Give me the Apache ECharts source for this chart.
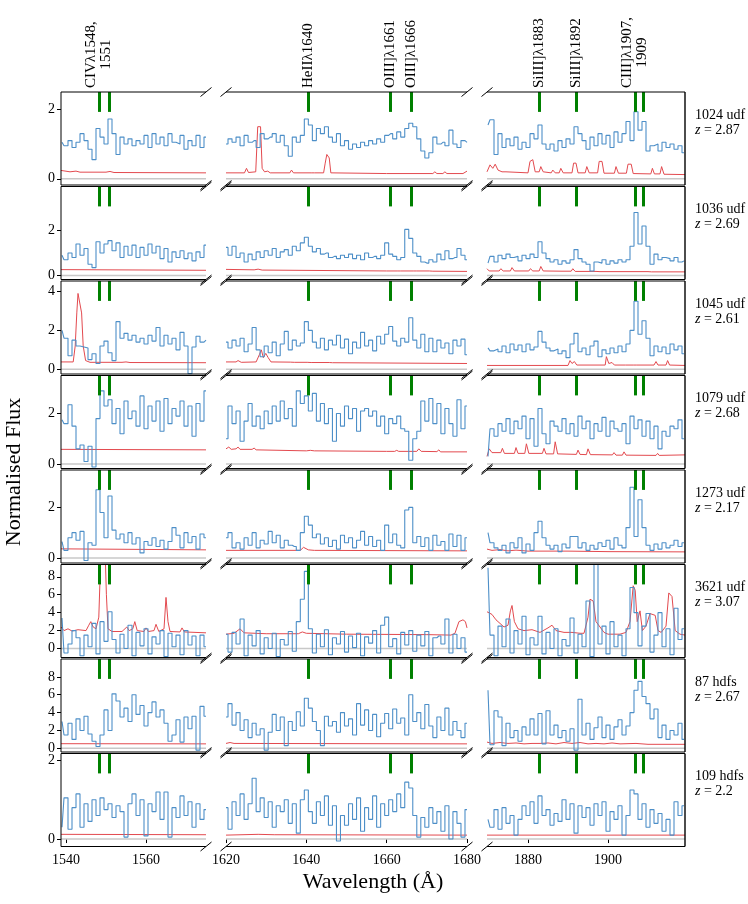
<!DOCTYPE html>
<html>
<head>
<meta charset="utf-8">
<script src="https://cdn.jsdelivr.net/npm/echarts@6.0.0/dist/echarts.min.js"></script>
<style>
html, body { margin: 0; padding: 0; background: #fff; }
#chart { width: 748px; height: 904px; }
</style>
</head>
<body>
<div id="chart"></div>
<script>
// wavelength grid of each segment (first sample, 1 A steps)
var segStart = [1539, 1620, 1870];
var segRange = [[1538.75, 1575], [1620, 1680], [1869.75, 1919.25]];
var xTicks = [[1540, 1560], [1620, 1640, 1660, 1680], [1880, 1900]];

var names = ['1024 udf', '1036 udf', '1045 udf', '1079 udf', '1273 udf', '3621 udf', '87 hdfs', '109 hdfs'];
var redshifts = ['2.87', '2.69', '2.61', '2.68', '2.17', '3.07', '2.67', '2.2'];
var yRanges = [[-0.18, 2.5], [-0.18, 3.96], [-0.24, 4.54], [-0.18, 3.51], [-0.2, 3.48], [-1.0, 9.37], [-0.41, 10.0], [-0.19, 2.18]];
var yTicks = [[0, 2], [0, 2], [0, 2, 4], [0, 2], [0, 2], [0, 2, 4, 6, 8], [0, 2, 4, 6, 8], [0, 2]];

var lineWaves = [1548.2, 1550.8, 1640.4, 1660.8, 1666.15, 1882.7, 1892.0, 1906.7, 1908.7];
var lineLabels = [
    {w: 1548.2, text: ['CIVλ1548,', '1551']},
    {w: 1640.4, text: ['HeIIλ1640']},
    {w: 1660.8, text: ['OIII]λ1661']},
    {w: 1666.15, text: ['OIII]λ1666']},
    {w: 1882.7, text: ['SiIII]λ1883']},
    {w: 1892.0, text: ['SiIII]λ1892']},
    {w: 1906.7, text: ['CIII]λ1907,', '1909']}
];

// ---- flux, 1024 udf
var f1a = [1.05,0.95,1.1,0.9,1.05,1.3,1.1,0.85,0.55,1.45, 1.2,1.0,1.72,1.3,0.7,1.2,1.0,1.15,0.95,1.1, 1.0,1.25,0.9,1.3,1.0,1.2,0.95,1.3,1.05,1.0, 1.25,0.85,1.1,0.95,1.25,0.9,1.2];
var f1b = [1.0,1.15,1.05,1.2,0.95,1.25,1.05,1.1,0.9,1.3, 1.15,1.2,1.3,1.05,1.25,0.95,0.65,1.2,1.05,1.25, 1.72,1.55,1.1,1.45,1.3,1.5,1.2,1.05,1.3,0.95, 1.1,0.85,1.0,0.9,1.05,0.95,1.1,1.0,1.15,1.05, 1.25,1.3,1.15,1.35,1.2,1.45,1.6,1.5,1.15,0.8, 0.6,0.75,1.2,1.0,1.05,0.95,1.4,1.0,0.9,1.1,1.05];
var f1c = [1.55,1.7,0.7,1.3,0.9,1.15,0.95,1.2,0.85,1.05, 0.9,1.3,1.15,1.55,1.0,0.85,1.0,0.8,1.1,0.9, 1.15,1.0,1.5,1.3,1.1,0.85,1.2,0.95,1.3,1.0, 1.25,0.9,1.35,1.05,1.3,1.65,1.1,1.93,1.4,1.65, 0.8,0.95,1.0,0.8,1.05,0.9,1.0,0.85,0.95,0.75];
// ---- flux, 1036 udf
var f2a = [0.9,0.7,1.0,0.8,1.4,0.9,1.2,0.5,0.35,1.5, 1.0,1.4,1.55,1.1,1.45,0.8,1.3,0.9,1.35,0.8, 1.25,0.9,1.4,1.0,1.3,0.75,1.2,0.6,1.05,0.8, 1.1,0.75,1.0,0.65,1.05,0.8,1.35];
var f2b = [1.25,0.9,1.3,0.8,1.0,0.6,0.95,0.7,1.05,0.8, 1.1,0.9,1.2,0.8,1.05,1.15,0.9,1.3,1.1,1.45, 1.7,1.3,1.05,1.2,0.95,1.0,0.8,0.85,0.75,0.9, 0.8,0.95,0.75,0.9,0.7,1.0,0.8,0.85,0.75,0.9, 1.45,0.95,0.85,0.7,0.8,2.05,1.65,1.0,0.85,0.6, 0.55,0.7,0.6,0.95,0.7,1.1,0.75,0.8,1.2,0.9,0.7];
var f2c = [0.55,0.85,0.6,0.9,0.75,0.95,0.8,0.85,0.65,0.9, 0.75,0.95,0.8,1.5,1.0,0.75,0.6,0.7,0.5,0.65, 0.55,0.7,1.15,0.75,0.6,0.5,0.2,0.6,0.55,0.7, 0.5,0.65,0.55,0.7,0.6,0.7,1.3,2.8,1.4,2.2, 1.3,0.5,0.95,0.7,0.8,0.75,0.65,0.8,0.6,0.65];
// ---- flux, 1045 udf
var f3a = [2.0,1.6,0.7,1.5,1.2,1.15,1.1,0.5,0.8,0.3, 1.2,1.45,0.85,0.45,2.45,1.6,1.85,1.5,1.75,1.4, 1.6,1.3,1.75,1.45,2.15,1.2,1.75,1.3,1.6,1.0, 1.9,1.2,-0.22,1.15,1.7,1.4,1.5];
var f3b = [1.4,1.1,1.5,1.2,1.6,0.9,1.3,2.15,1.0,0.65, 1.2,0.85,1.4,0.7,1.3,1.95,1.0,1.5,1.2,1.35, 2.45,2.0,1.4,1.1,1.6,1.0,1.5,1.25,1.75,1.1, 1.55,0.8,1.4,1.1,1.9,1.2,1.5,0.95,1.7,1.3, 1.8,2.2,1.45,1.2,1.6,1.4,2.65,1.5,1.1,1.8, 0.9,1.6,0.9,1.5,1.1,1.35,0.8,1.5,1.2,1.55,0.75];
var f3c = [1.1,0.95,1.05,0.9,1.2,0.85,1.3,1.0,1.25,0.9, 1.3,1.0,1.15,1.95,1.4,1.1,0.95,1.05,0.8,0.95, 0.6,1.3,1.85,0.9,1.1,0.75,1.2,1.45,0.65,1.0, 0.8,1.1,0.85,1.2,0.9,1.3,2.0,3.5,1.8,2.5, 1.6,0.7,1.2,0.9,1.15,0.8,1.3,1.0,1.2,0.8];
// ---- flux, 1079 udf
var f4a = [1.75,1.6,2.35,1.5,0.6,0.75,0.1,0.7,-0.12,1.8, 2.9,2.3,2.55,1.6,2.2,1.2,2.5,1.8,2.1,1.5, 2.7,1.4,2.3,1.7,2.5,1.3,2.6,1.6,2.2,1.9, 2.5,1.5,2.3,1.1,2.4,1.7,2.9];
var f4b = [1.0,2.3,1.6,2.1,0.9,1.7,2.4,1.5,1.9,1.4, 2.1,1.6,2.3,1.7,2.5,1.8,2.2,1.5,2.9,2.4, 2.7,2.1,2.8,1.7,2.4,1.6,2.2,0.9,2.0,1.5, 2.3,1.8,2.2,1.3,2.1,2.2,1.9,2.1,1.5,1.9, 1.2,1.8,1.6,1.9,1.4,1.3,0.15,1.0,1.3,2.5, 1.7,2.6,1.6,2.4,1.2,2.2,1.6,1.1,2.55,1.4,2.3];
var f4c = [0.3,1.4,1.1,1.6,1.3,1.8,1.2,1.7,1.4,1.9, 1.0,1.8,0.7,2.2,1.2,0.8,1.7,1.5,1.3,1.8, 1.2,1.6,1.1,1.9,1.4,1.7,1.0,1.6,1.3,1.85, 1.1,1.7,1.4,1.3,1.6,0.8,1.9,1.4,1.75,1.1, 1.7,1.0,1.5,0.6,1.3,1.1,1.5,1.4,1.75,1.0];
// ---- flux, 1273 udf
var f5a = [0.65,0.3,0.8,1.0,0.7,1.05,-0.1,0.6,0.5,2.7, 1.8,0.8,2.45,1.1,0.75,0.95,0.6,1.0,0.55,0.8, 0.2,0.65,0.5,0.8,0.45,0.7,0.35,0.65,1.2,0.9, 0.4,1.0,0.6,0.85,0.35,0.95,0.8];
var f5b = [0.8,1.0,0.4,0.6,0.35,0.8,0.5,1.0,0.4,0.7, 0.55,1.05,0.6,0.9,0.4,0.7,0.5,0.45,0.3,1.0, 1.65,1.3,0.8,0.95,0.55,0.8,0.45,0.7,0.35,0.9, 0.6,0.8,0.4,0.7,1.05,0.5,0.85,0.45,0.7,0.3, 1.3,0.6,0.95,0.5,0.4,1.9,2.0,0.6,0.85,0.45, 0.8,0.3,0.9,0.5,0.65,0.3,0.95,0.45,0.9,0.3,0.8];
var f5c = [1.0,0.6,0.4,0.3,0.5,0.2,0.6,0.4,0.8,0.2, 0.55,0.3,1.0,1.45,0.8,0.5,0.35,0.5,0.25,0.55, 0.4,0.85,0.85,0.4,0.6,0.3,0.5,0.35,0.6,0.45, 0.7,0.35,0.8,0.5,0.4,1.2,2.8,0.85,2.3,1.2, 0.5,0.3,0.55,0.35,0.6,0.4,0.5,0.7,0.45,0.6];
// ---- flux, 3621 udf
var f6a = [3.4,-0.5,0.5,2.0,1.2,-0.8,1.5,0.2,2.8,-0.6, 3.0,0.8,4.1,1.0,-0.5,1.6,0.0,2.6,-0.8,1.8, 0.3,2.2,-0.6,1.3,0.5,2.0,-0.9,1.7,0.2,1.5, -0.7,2.0,0.4,1.4,-0.8,1.5,0.2];
var f6b = [1.6,-0.4,1.8,0.5,3.3,-0.8,1.5,0.3,2.0,-0.6, 1.2,0.0,1.7,-0.9,1.0,0.4,1.9,-0.3,3.0,5.5, 8.6,2.2,-0.5,1.6,0.2,2.1,-0.7,1.2,0.5,1.9, -0.4,1.4,0.1,1.7,-0.8,1.3,0.6,2.0,-0.5,2.6, 3.5,0.2,1.1,-0.6,1.8,0.4,2.0,-0.3,1.5,0.3, 1.9,-0.8,1.2,1.4,0.5,3.3,-0.5,1.6,0.0,1.2,-0.4];
var f6c = [9.0,1.5,-0.8,2.5,0.2,3.3,-0.5,2.0,0.5,3.6, -0.7,1.2,0.4,3.6,-0.6,1.8,0.0,2.2,-0.8,1.0, 0.3,3.4,-0.5,1.6,0.2,5.3,-0.9,9.6,0.5,2.5, -0.6,3.0,0.2,1.5,-0.8,2.2,6.8,4.0,0.3,2.5, 3.9,-0.4,1.5,4.0,0.2,2.2,-0.7,4.5,1.0,2.2];
// ---- flux, 87 hdfs
var f7a = [3.0,1.5,2.8,1.0,3.3,2.0,3.6,1.6,0.8,0.2, 1.5,4.3,2.0,6.1,5.3,3.5,4.5,3.0,6.0,3.8, 4.8,2.5,4.0,5.2,3.5,4.3,2.8,0.8,1.5,3.2, 0.7,3.5,2.2,3.6,-0.2,4.7,3.6];
var f7b = [3.5,5.0,2.6,4.0,2.0,3.2,1.2,2.8,1.5,2.2, -0.2,1.8,3.8,2.0,3.5,0.3,3.0,2.0,4.1,2.5, 5.6,4.5,3.0,2.0,0.3,3.6,2.5,3.0,1.8,4.0, 2.5,3.3,1.5,5.0,2.6,4.3,2.0,3.8,1.3,2.8, 3.9,2.2,4.4,2.8,3.4,1.5,6.0,3.0,4.0,2.2, 4.9,2.5,1.2,3.5,2.0,4.5,1.5,3.0,2.0,1.2,2.8];
var f7c = [6.5,0.4,4.2,3.5,0.3,2.8,1.2,2.0,0.8,2.4, 1.5,3.3,1.5,3.9,0.5,4.2,1.5,2.6,1.2,2.0, 0.8,2.2,-0.2,5.5,1.5,2.8,1.0,2.3,3.5,1.2, 2.6,1.0,2.4,3.2,1.5,2.5,4.0,6.5,7.5,5.8, 5.0,3.3,4.4,1.2,2.6,1.0,2.0,1.5,2.8,1.0];
// ---- flux, 109 hdfs
var f8a = [0.3,1.05,0.25,0.8,1.15,0.3,0.9,0.45,1.0,0.6, 1.05,0.75,0.9,0.55,0.85,0.7,0.05,0.9,1.15,0.6, 1.0,0.08,0.9,0.7,1.2,0.5,1.2,0.05,0.8,0.55, 1.1,0.6,0.95,0.3,0.9,0.5,0.75];
var f8b = [0.8,0.25,0.95,0.6,1.15,0.5,0.9,1.55,0.7,1.05, 0.55,0.95,0.3,0.85,0.7,1.0,0.4,0.9,0.15,1.0, 1.25,0.7,0.4,0.95,0.6,1.1,0.35,0.85,-0.05,0.6, 0.35,0.9,0.5,1.05,0.2,0.8,0.5,1.1,0.3,0.9, 0.6,1.0,0.7,1.15,0.8,1.45,1.3,0.6,0.05,0.55, 0.3,0.8,0.4,0.7,0.2,0.85,0.0,0.7,0.4,0.05,0.75];
var f8c = [0.5,0.3,0.75,0.25,0.8,0.4,0.6,0.1,0.5,0.85, 0.6,0.95,0.4,1.1,0.6,0.75,0.35,0.65,0.45,1.0, 0.5,0.9,0.15,0.85,0.55,0.8,0.35,0.9,0.6,0.95, 0.2,0.7,0.5,0.85,0.1,0.6,1.25,1.15,0.5,0.9, 0.3,0.75,0.4,0.65,0.2,0.5,0.1,0.95,0.6,0.85];

// ---- error spectra [wavelength, value]
var e1a = [[1538.75,0.24],[1541,0.2],[1542.5,0.22],[1543.5,0.19],[1550,0.19],[1551,0.21],[1552,0.18],[1575,0.17]];
var e1b = [[1620,0.17],[1624.6,0.17],[1625.1,0.3],[1625.6,0.18],[1627.4,0.2],[1627.9,1.5],[1628.6,1.5],[1629,0.3],[1629.6,0.2],[1630.4,0.22],[1631,0.17],[1635.9,0.17],[1636.3,0.25],[1636.8,0.17],[1641.2,0.17],[1641.6,0.22],[1642,0.17],[1643.4,0.17],[1643.8,0.22],[1644.3,0.17],[1644.7,0.45],[1645.1,0.7],[1645.7,0.6],[1646.1,0.17],[1660,0.15],[1671.5,0.15],[1672,0.2],[1672.5,0.15],[1674,0.15],[1674.5,0.2],[1675,0.15],[1679,0.15],[1680,0.22]];
var e1c = [[1869.75,0.2],[1870.5,0.4],[1871.2,0.3],[1871.8,0.42],[1872.5,0.25],[1873.5,0.2],[1874.5,0.2],[1875,0.18],[1880,0.17],[1880.5,0.5],[1881.2,0.55],[1881.8,0.2],[1882.8,0.2],[1883.2,0.35],[1883.8,0.2],[1885.8,0.17],[1886.2,0.25],[1886.8,0.17],[1887.8,0.17],[1888.2,0.3],[1888.8,0.17],[1891,0.17],[1891.4,0.45],[1892,0.45],[1892.5,0.17],[1894.3,0.17],[1894.7,0.35],[1895.3,0.17],[1897.4,0.17],[1897.8,0.5],[1898.5,0.5],[1899,0.16],[1901.6,0.16],[1902,0.35],[1902.6,0.16],[1904.6,0.16],[1905,0.42],[1905.8,0.42],[1906.3,0.15],[1910.7,0.14],[1911.1,0.3],[1911.6,0.14],[1913,0.14],[1913.4,0.35],[1914,0.13],[1919.25,0.12]];
var e2a = [[1538.75,0.26],[1575,0.23]];
var e2b = [[1620,0.27],[1627,0.25],[1628,0.28],[1629,0.24],[1660,0.2],[1662.6,0.2],[1663,0.27],[1663.5,0.2],[1666.6,0.2],[1667,0.26],[1667.5,0.2],[1670.6,0.2],[1671,0.25],[1671.5,0.19],[1680,0.18]];
var e2c = [[1869.75,0.3],[1870.3,0.2],[1872.8,0.2],[1873.2,0.3],[1873.8,0.2],[1875.6,0.2],[1876,0.35],[1876.6,0.2],[1880.2,0.2],[1880.6,0.3],[1881.2,0.2],[1882.8,0.2],[1883.2,0.4],[1883.8,0.2],[1888.5,0.19],[1889,0.25],[1889.5,0.19],[1890.8,0.19],[1891.2,0.3],[1891.8,0.18],[1897,0.18],[1897.5,0.22],[1898,0.17],[1910,0.17],[1910.4,0.2],[1910.9,0.16],[1919.25,0.16]];
var e3a = [[1538.75,0.38],[1541.8,0.38],[1542.3,1.2],[1542.7,2.9],[1543.0,3.9],[1543.5,3.85],[1543.9,2.9],[1544.3,1.2],[1544.9,0.45],[1546,0.36],[1554,0.36],[1555,0.38],[1556,0.35],[1575,0.34]];
var e3b = [[1620,0.38],[1622.5,0.38],[1623,0.45],[1623.8,0.36],[1627.5,0.38],[1628.3,0.75],[1628.8,1.0],[1629.3,0.6],[1629.9,0.82],[1630.5,0.6],[1631.2,0.38],[1636,0.37],[1636.4,0.42],[1637,0.36],[1640.2,0.36],[1640.6,0.45],[1641.2,0.35],[1645.7,0.35],[1646,0.42],[1646.5,0.34],[1680,0.3]];
var e3c = [[1869.75,0.2],[1890,0.2],[1890.5,0.45],[1891,0.3],[1891.6,0.4],[1892.2,0.22],[1899.3,0.22],[1899.6,0.65],[1900.2,0.3],[1901,0.35],[1901.6,0.22],[1903.5,0.22],[1903.9,0.3],[1904.4,0.22],[1906.3,0.22],[1906.7,0.32],[1907.2,0.22],[1911.5,0.22],[1912,0.4],[1912.5,0.22],[1914.5,0.22],[1914.9,0.45],[1915.4,0.22],[1919.25,0.2]];
var e4a = [[1538.75,0.58],[1575,0.56]];
var e4b = [[1620,0.6],[1620.7,0.67],[1621.3,0.58],[1622.5,0.6],[1623,0.67],[1623.5,0.58],[1626.5,0.58],[1627,0.63],[1627.5,0.56],[1640,0.52],[1641,0.54],[1642,0.52],[1660,0.5],[1662,0.5],[1662.5,0.54],[1663,0.5],[1667.5,0.5],[1668,0.6],[1668.6,0.5],[1672.5,0.49],[1673,0.56],[1673.4,0.48],[1680,0.48]];
var e4c = [[1869.75,0.3],[1870.3,0.6],[1871,0.45],[1873.2,0.45],[1873.6,0.62],[1874.1,0.42],[1876.6,0.42],[1877,0.65],[1877.5,0.42],[1879.2,0.42],[1879.6,0.8],[1880.2,0.42],[1883.6,0.42],[1884,0.62],[1884.5,0.4],[1886.4,0.4],[1886.8,0.88],[1887.4,0.4],[1892.1,0.38],[1892.5,0.55],[1893,0.38],[1894.6,0.37],[1895,0.6],[1895.6,0.37],[1901.1,0.36],[1901.5,0.45],[1902,0.35],[1903.6,0.35],[1904,0.48],[1904.5,0.35],[1912,0.34],[1912.4,0.42],[1912.8,0.34],[1919.25,0.36]];
var e5a = [[1538.75,0.36],[1575,0.32]];
var e5b = [[1620,0.3],[1638.5,0.3],[1639.3,0.42],[1640.5,0.32],[1642,0.3],[1680,0.28]];
var e5c = [[1869.75,0.35],[1871,0.3],[1873,0.33],[1875,0.28],[1877,0.31],[1880,0.27],[1890,0.27],[1900,0.25],[1919.25,0.24]];
var e6a = [[1538.75,2.4],[1539.5,2.0],[1540.5,2.2],[1541.5,1.95],[1543,2.1],[1545,2.0],[1545.7,2.6],[1546.2,3.0],[1546.8,2.4],[1547.5,2.2],[1548.2,3.5],[1548.6,9],[1549,12],[1549.7,12],[1550.1,6],[1550.5,2.2],[1551.5,1.9],[1554,1.9],[1555.2,2.4],[1555.8,2.0],[1556.7,2.2],[1557.2,3.0],[1557.8,2.0],[1559.5,1.9],[1560,2.3],[1560.6,1.9],[1562,2.0],[1562.5,2.7],[1563.2,1.9],[1564.5,2.2],[1565,5.7],[1565.5,3.0],[1566,1.9],[1568.5,1.85],[1569,2.3],[1569.6,1.85],[1575,1.75]];
var e6b = [[1620,1.6],[1622,1.7],[1623.5,2.2],[1624.5,1.75],[1630,1.65],[1638,1.65],[1639,1.85],[1640,1.7],[1650,1.6],[1670,1.55],[1676,1.5],[1677,1.7],[1678,3.0],[1679,3.2],[1679.6,3.0],[1680,2.3]];
var e6c = [[1869.75,4.1],[1871,3.8],[1872,3.2],[1873,2.8],[1874,2.4],[1875,2.6],[1875.6,4.2],[1876,4.8],[1876.6,3.0],[1877.5,2.2],[1879,2.0],[1881,2.1],[1883,1.8],[1885,2.3],[1886,2.6],[1887,2.0],[1889,1.8],[1891,1.8],[1893,1.7],[1894,1.7],[1895,3.5],[1895.5,5.5],[1896.3,5.3],[1897,3.0],[1898,2.4],[1899,1.8],[1900,1.6],[1903,1.6],[1904.5,1.8],[1905.5,3.0],[1906.3,7.0],[1906.8,6.5],[1907.3,3.0],[1908,4.2],[1908.6,2.0],[1909.5,2.5],[1910.5,3.9],[1911.8,3.7],[1912.5,2.0],[1913.3,1.8],[1914.5,2.5],[1915.2,6.2],[1916,5.8],[1916.8,2.0],[1918,1.6],[1919.25,1.5]];
var e7a = [[1538.75,0.52],[1575,0.5]];
var e7b = [[1620,0.55],[1621,0.65],[1622,0.55],[1680,0.5]];
var e7c = [[1869.75,0.7],[1871,0.55],[1873,0.65],[1875,0.55],[1877,0.6],[1879,0.5],[1881,0.55],[1883,0.55],[1885,0.6],[1887,0.5],[1889,0.65],[1891,0.55],[1893,0.65],[1895,0.5],[1897,0.55],[1899,0.5],[1901,0.6],[1903,0.5],[1907,0.55],[1910,0.45],[1919.25,0.45]];
var e8a = [[1538.75,0.12],[1575,0.11]];
var e8b = [[1620,0.1],[1628,0.12],[1632,0.11],[1680,0.1]];
var e8c = [[1869.75,0.1],[1919.25,0.1]];

var flux = [[f1a,f1b,f1c],[f2a,f2b,f2c],[f3a,f3b,f3c],[f4a,f4b,f4c],[f5a,f5b,f5c],[f6a,f6b,f6c],[f7a,f7b,f7c],[f8a,f8b,f8c]];
var errs = [[e1a,e1b,e1c],[e2a,e2b,e2c],[e3a,e3b,e3c],[e4a,e4b,e4c],[e5a,e5b,e5c],[e6a,e6b,e6c],[e7a,e7b,e7c],[e8a,e8b,e8c]];

// layout
var FONT = 'Liberation Serif';
var colLeft = [61, 226, 487];
var colWidth = [145, 241, 198];
var rowTop0 = 92, rowStep = 94.5, rowHeight = 93;
var BLUE = '#4d8fc8', RED = '#e34a4f', GREEN = '#008000';

function toPairs(start, vals) {
    return vals.map(function (v, i) { return [start + i, v]; });
}
function plain(v) { return String(v); }

var grids = [], xAxes = [], yAxes = [], series = [];
for (var r = 0; r < 8; r++) {
    for (var c = 0; c < 3; c++) {
        var k = r * 3 + c;
        var ymin = yRanges[r][0], ymax = yRanges[r][1];
        var ygreen = ymax - 0.214 * (ymax - ymin);
        grids.push({left: colLeft[c], top: rowTop0 + r * rowStep, width: colWidth[c], height: rowHeight});
        xAxes.push({
            type: 'value', gridIndex: k, min: segRange[c][0], max: segRange[c][1],
            show: r === 7,
            axisLine: {show: false},
            splitLine: {show: false},
            axisTick: {show: true, length: 4, customValues: xTicks[c], lineStyle: {color: '#000'}},
            axisLabel: {customValues: xTicks[c], formatter: plain, fontFamily: FONT, fontSize: 14, color: '#000', margin: 7}
        });
        yAxes.push({
            type: 'value', gridIndex: k, min: ymin, max: ymax,
            show: c === 0,
            axisLine: {show: false},
            splitLine: {show: false},
            axisTick: {show: true, length: 4, customValues: yTicks[r], lineStyle: {color: '#000'}},
            axisLabel: {customValues: yTicks[r], formatter: plain, fontFamily: FONT, fontSize: 14, color: '#000', margin: 6}
        });
        var waves = lineWaves.filter(function (w) { return w > segRange[c][0] && w < segRange[c][1]; });
        series.push({
            type: 'line', xAxisIndex: k, yAxisIndex: k, silent: true, z: 1,
            data: [[segRange[c][0], 0], [segRange[c][1], 0]],
            symbol: 'none', lineStyle: {color: '#c8c8c8', width: 1.5}
        });
        series.push({
            type: 'line', xAxisIndex: k, yAxisIndex: k, silent: true, z: 2,
            data: errs[r][c], symbol: 'none', lineStyle: {color: RED, width: 1}
        });
        series.push({
            type: 'line', step: 'middle', xAxisIndex: k, yAxisIndex: k, silent: true, z: 3,
            data: toPairs(segStart[c], flux[r][c]), symbol: 'none',
            lineStyle: {color: BLUE, width: 1.1},
            markLine: {
                silent: true, symbol: ['none', 'none'], label: {show: false},
                lineStyle: {color: GREEN, width: 3, type: 'solid'},
                data: waves.map(function (w) { return [{coord: [w, ygreen]}, {coord: [w, ymax]}]; })
            }
        });
    }
}

var chart = echarts.init(document.getElementById('chart'));
chart.setOption({
    animation: false,
    backgroundColor: '#fff',
    grid: grids,
    xAxis: xAxes,
    yAxis: yAxes,
    series: series
});

// frames, break marks and texts
var g = [];
function seg(x1, y1, x2, y2, w) {
    g.push({type: 'line', silent: true, z: 50, shape: {x1: x1, y1: y1, x2: x2, y2: y2}, style: {stroke: '#000', lineWidth: w || 1}});
}
for (var r = 0; r < 8; r++) {
    var yTop = rowTop0 + r * rowStep, yBot = yTop + rowHeight;
    for (var c = 0; c < 3; c++) {
        var L = colLeft[c], R = colLeft[c] + colWidth[c];
        seg(L, yTop, R, yTop);
        seg(L, yBot, R, yBot);
        if (c === 0) seg(L, yTop, L, yBot);
        if (c === 2) seg(R, yTop, R, yBot, 1.4);
        var ends = [];
        if (c > 0) ends.push(L);
        if (c < 2) ends.push(R);
        ends.forEach(function (x) {
            seg(x - 5.5, yTop + 4.5, x + 5.5, yTop - 4.5);
            seg(x - 5.5, yBot + 4.5, x + 5.5, yBot - 4.5);
        });
    }
    g.push({type: 'text', silent: true, x: 695, y: yTop + 23,
        style: {text: names[r], font: '14px "' + FONT + '"', fill: '#000', align: 'left', verticalAlign: 'middle'}});
    g.push({type: 'text', silent: true, x: 695, y: yTop + 38,
        style: {text: '{i|z} = ' + redshifts[r], font: '14px "' + FONT + '"', fill: '#000', align: 'left', verticalAlign: 'middle',
            rich: {i: {font: 'italic 14px "' + FONT + '"'}}}});
}

var ctx = document.createElement('canvas').getContext('2d');
ctx.font = '15px "' + FONT + '"';
lineLabels.forEach(function (lab) {
    var col = lab.w < 1600 ? 0 : (lab.w < 1800 ? 1 : 2);
    var px = chart.convertToPixel({xAxisIndex: col}, lab.w);
    var w1 = ctx.measureText(lab.text[0]).width;
    var n = lab.text.length;
    lab.text.forEach(function (t, i) {
        var dx = (i - (n - 1) / 2) * 15;
        g.push({type: 'text', silent: true, x: px + dx, y: 88 - w1 / 2, rotation: Math.PI / 2,
            style: {text: t, font: '15px "' + FONT + '"', fill: '#000', align: 'center', verticalAlign: 'middle'}});
    });
});

g.push({type: 'text', silent: true, x: 14, y: 472, rotation: Math.PI / 2,
    style: {text: 'Normalised Flux', font: '22px "' + FONT + '"', fill: '#000', align: 'center', verticalAlign: 'middle'}});
g.push({type: 'text', silent: true, x: 373, y: 882,
    style: {text: 'Wavelength (Å)', font: '22px "' + FONT + '"', fill: '#000', align: 'center', verticalAlign: 'middle'}});

chart.setOption({graphic: g});
</script>
</body>
</html>
